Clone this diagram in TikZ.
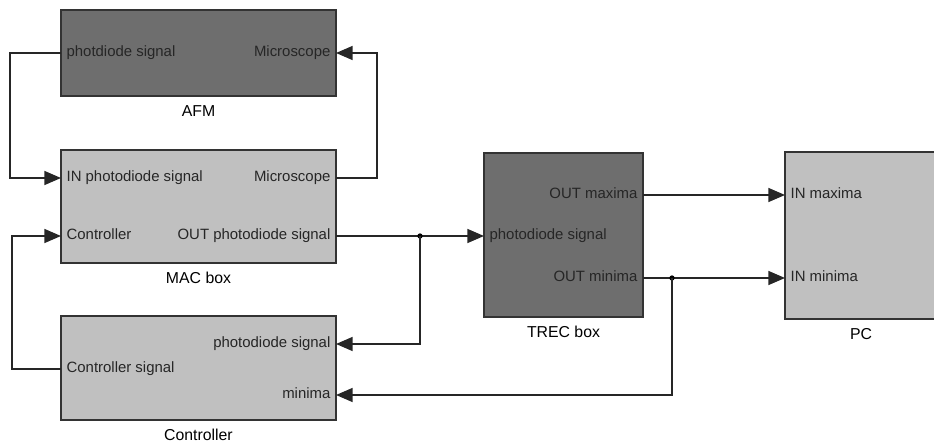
\documentclass[tikz,border=0pt]{standalone}
\usepackage{fontspec}
\setmainfont{Liberation Sans}
\usetikzlibrary{arrows.meta,positioning}

\definecolor{boxdark}{HTML}{6E6E6E}
\definecolor{boxlight}{HTML}{C0C0C0}
\definecolor{boxline}{HTML}{333333}

\begin{document}
\begin{tikzpicture}[x=0.02cm, y=-0.02cm, font=\fontsize{8.5}{10}\selectfont,
	unit/.style={draw=boxline, line width=0.9pt, inner sep=0pt, outer sep=0pt},
	darkunit/.style={unit, fill=boxdark},
	lightunit/.style={unit, fill=boxlight},
	port/.style={inner xsep=3.2pt, inner ysep=0pt, outer sep=0pt, text height=6pt, text depth=2pt, text=black!85},
	caption/.style={inner sep=0pt, text height=6.2pt, text depth=0pt, font=\fontsize{9}{10}\selectfont},
	wire/.style={line width=0.8pt, draw=black!85},
	feed/.style={wire, -{Triangle[length=9.5pt,width=8pt]}},
	joint/.style={circle, fill=black, inner sep=0pt, minimum size=3pt}]
			%%%%% START %%%%%
			\useasboundingbox (0,0) rectangle (934,446);
			
			\node[darkunit, minimum width=5.5cm, minimum height=1.72cm] (afm) at (198.5,53) {};
			\node[lightunit, minimum width=5.5cm, minimum height=2.26cm] (mac) at (198.5,206.5) {};
			\node[lightunit, minimum width=5.5cm, minimum height=2.08cm] (ctl) at (198.5,368) {};
			\node[darkunit, minimum width=3.18cm, minimum height=3.28cm] (trec) at (563.5,235) {};
			\node[lightunit, minimum width=3.04cm, minimum height=3.34cm] (pc) at (861,235.5) {};
			
			\node[caption, below=5pt of afm] {AFM};
			\node[caption, below=5pt of mac] {MAC box};
			\node[caption, below=5pt of ctl] {Controller};
			\node[caption, below=5pt of trec] {TREC box};
			\node[caption, below=5pt of pc] {PC};
			
			% ports
			\node[port, anchor=west] (afm-pd) at (61,53) {photdiode signal};
			\node[port, anchor=east] (afm-mic) at (336,53) {Microscope};
			
			\node[port, anchor=west] (mac-pd) at (61,178) {IN photodiode signal};
			\node[port, anchor=east] (mac-mic) at (336,178) {Microscope};
			\node[port, anchor=west] (mac-ctl) at (61,236) {Controller};
			\node[port, anchor=east] (mac-out) at (336,236) {OUT photodiode signal};
			
			\node[port, anchor=east] (ctl-pd) at (336,344) {photodiode signal};
			\node[port, anchor=west] (ctl-sig) at (61,369) {Controller signal};
			\node[port, anchor=east] (ctl-min) at (336,395) {minima};
			
			\node[port, anchor=east] (trec-max) at (643,195) {OUT maxima};
			\node[port, anchor=west] (trec-pd) at (484,236) {photodiode signal};
			\node[port, anchor=east] (trec-min) at (643,278) {OUT minima};
			
			\node[port, anchor=west] (pc-max) at (785,195) {IN maxima};
			\node[port, anchor=west] (pc-min) at (785,278) {IN minima};
			
			% wires
			\draw[feed] (afm-pd.west) -- ++(-51,0) |- (mac-pd.west);
			\draw[feed] (mac-mic.east) -- ++(41,0) |- (afm-mic.east);
			\draw[feed] (ctl-sig.west) -- ++(-49,0) |- (mac-ctl.west);
			
			\draw[feed] (mac-out.east) -- (trec-pd.west);
			\node[joint] (j1) at (420,236) {};
			\draw[feed] (j1.center) |- (ctl-pd.east);
			
			\draw[feed] (trec-max.east) -- (pc-max.west);
			\draw[feed] (trec-min.east) -- (pc-min.west);
			\node[joint] (j2) at (672,278) {};
			\draw[feed] (j2.center) |- (ctl-min.east);
			%%%%% END %%%%%
\end{tikzpicture}
\end{document}
